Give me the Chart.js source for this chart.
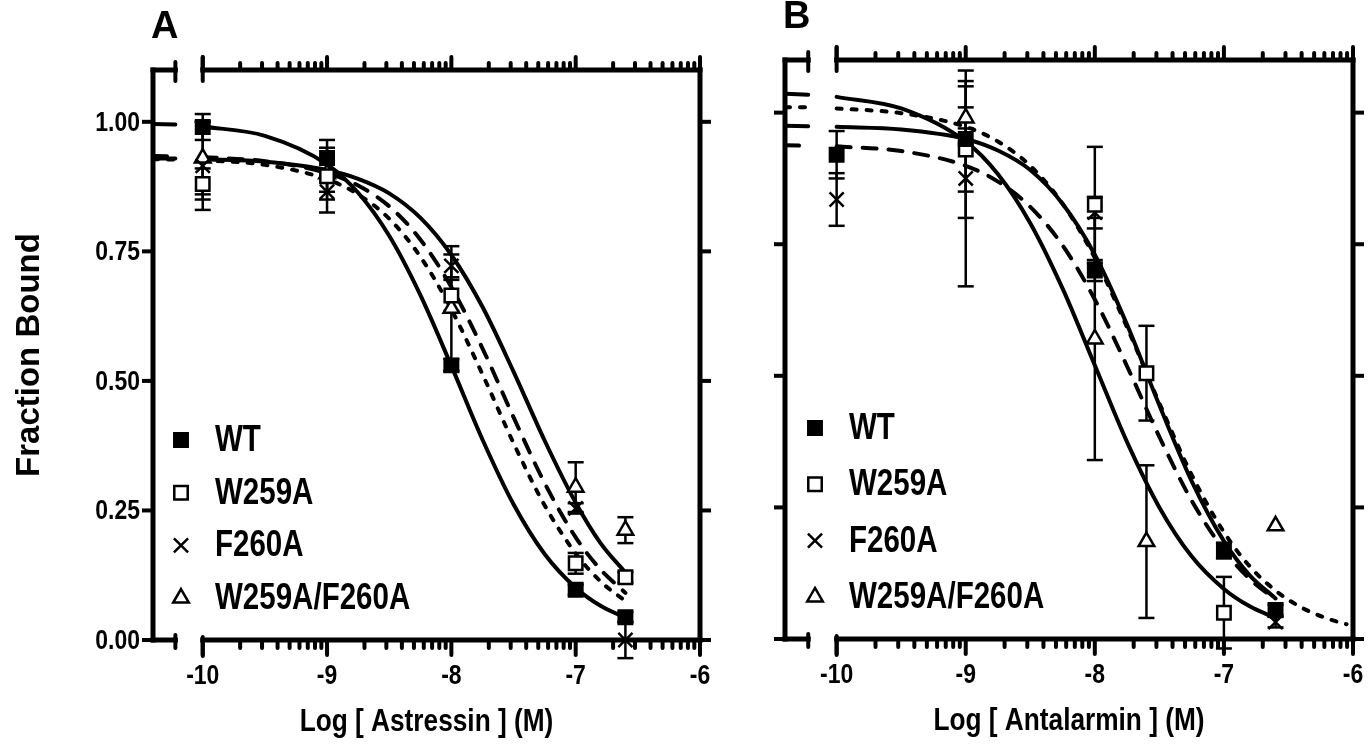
<!DOCTYPE html>
<html>
<head>
<meta charset="utf-8">
<script src="https://cdn.jsdelivr.net/npm/chart.js@4.4.1/dist/chart.umd.min.js"></script>
<style>
  html, body { margin: 0; padding: 0; background: #fff; }
  #wrap { position: relative; width: 1372px; height: 747px; }
  #chartA { position: absolute; left: 0; top: 0; }
  #chartB { position: absolute; left: 720px; top: 0; }
</style>
</head>
<body>
<div id="wrap">
  <canvas id="chartA" width="720" height="747"></canvas>
  <canvas id="chartB" width="652" height="747"></canvas>
</div>
<script>
// values (log molar concentration vs fraction bound)
const seriesNames = ['WT', 'W259A', 'F260A', 'W259A/F260A'];
const xTicks = [-10, -9, -8, -7, -6];
const yTicks = [0, 0.25, 0.5, 0.75, 1.0];
const breakFrom = -10.22;
const breakTo = -10;

// panel A - astressin
const doseA = [-10, -9, -8, -7, -6.6];
const wtA = [0.99, 0.93, 0.53, 0.097, 0.044];
const wtAErr = [0.025, 0.035, 0.012, 0.01, 0.01];
const w259A = [0.88, 0.895, 0.665, 0.148, 0.121];
const w259AErr = [0.03, 0.03, 0.03, 0.02, 0.01];
const f260A = [0.915, 0.865, 0.722, 0.254, 0.0];
const f260AErr = [0.085, 0.04, 0.022, 0.01, 0.035];
const dblA = [0.93, 0.9, 0.64, 0.295, 0.212];
const dblAErr = [0.07, 0.05, 0.12, 0.048, 0.025];

// fitted curves, sampled along the x axis
const fitX = [-10.4, -10.22, -10, -9.5, -9, -8.75, -8.5, -8.25, -8, -7.75, -7.5, -7.25, -7, -6.8, -6.6, -6.4, -6.2, -6.05];
const fitWtA = [0.996, 0.995, 0.991, 0.973, 0.918, 0.863, 0.78, 0.666, 0.529, 0.387, 0.262, 0.166, 0.101, 0.066, 0.043, null, null, null];
const fitW259A = [0.928, 0.927, 0.926, 0.917, 0.889, 0.86, 0.813, 0.74, 0.638, 0.513, 0.38, 0.26, 0.167, 0.113, 0.075, null, null, null];
const fitF260A = [0.934, 0.933, 0.932, 0.924, 0.901, 0.877, 0.837, 0.773, 0.681, 0.563, 0.43, 0.303, 0.198, 0.136, 0.091, null, null, null];
const fitDblA = [0.929, 0.929, 0.928, 0.923, 0.907, 0.89, 0.862, 0.815, 0.743, 0.643, 0.518, 0.385, 0.265, 0.187, 0.13, null, null, null];

// panel B - antalarmin
const doseB = [-10, -9, -8, -7.6, -7, -6.6];
const wtB = [0.92, 0.95, 0.7, null, 0.168, 0.055];
const wtBErr = [0.045, 0.1, 0.02, null, 0.015, 0.01];
const w259B = [null, 0.93, 0.825, 0.505, 0.05, null];
const w259BErr = [null, 0.13, 0.11, 0.09, 0.068, null];
const f260B = [0.835, 0.875, 0.81, null, null, 0.032];
const f260BErr = [0.05, 0.205, 0.03, null, null, 0.01];
const dblB = [null, 0.99, 0.57, 0.185, null, 0.215];
const dblBErr = [null, 0.02, 0.23, 0.145, null, 0];

const fitWtB = [0.975, 0.974, 0.973, 0.968, 0.95, 0.928, 0.891, 0.827, 0.73, 0.597, 0.444, 0.3, 0.186, 0.121, 0.077, null, null, null];
const fitW259B = [1.01, 1.01, 1.008, 0.999, 0.973, 0.945, 0.899, 0.827, 0.724, 0.592, 0.448, 0.312, 0.203, 0.138, 0.092, 0.06, 0.039, 0.028];
const fitF260B = [0.938, 0.937, 0.936, 0.927, 0.899, 0.869, 0.821, 0.748, 0.645, 0.518, 0.384, 0.263, 0.169, 0.114, 0.075, null, null, null];
const fitDblB = [1.036, 1.034, 1.03, 1.008, 0.945, 0.883, 0.79, 0.666, 0.52, 0.374, 0.25, 0.157, 0.095, 0.062, 0.04, null, null, null];

const FONT = '"Liberation Sans", Arial, sans-serif';
const SQUEEZE = 0.82; // the original lettering is a condensed face

const markers = [
    { pointStyle: 'rect', fill: '#000', radius: 9.5 },
    { pointStyle: 'rect', fill: '#fff', radius: 9.5 },
    { pointStyle: 'crossRot', fill: '#000', radius: 10 },
    { pointStyle: 'triangle', fill: '#fff', radius: 9 },
];
const dashes = [[], [5, 10], [14, 12], []];

function points(xs, ys, errs) {
    const out = [];
    xs.forEach((x, i) => {
        if (ys[i] != null) out.push({ x: x, y: ys[i], e: errs[i] });
    });
    return out;
}

// gap in the line where the x axis is broken
function curve(xs, ys) {
    const out = [];
    xs.forEach((x, i) => {
        if (i > 0 && xs[i - 1] < breakTo && x >= breakTo) out.push({ x: (breakFrom + breakTo) / 2, y: null });
        if (ys[i] != null) out.push({ x: x, y: ys[i] });
    });
    return out;
}

function buildDatasets(dose, vals, errs, fits) {
    const sets = [];
    vals.forEach((v, i) => {
        const m = markers[i];
        sets.push({
            label: seriesNames[i],
            data: points(dose, v, errs[i]),
            pointStyle: m.pointStyle,
            pointRadius: m.radius,
            pointBackgroundColor: m.fill,
            pointBorderColor: '#000',
            pointBorderWidth: 2.5,
            showLine: false,
            clip: false,
            errorBars: true,
        });
    });
    fits.forEach((f, i) => {
        sets.push({
            label: seriesNames[i] + ' fit',
            data: curve(fitX, f),
            showLine: true,
            pointRadius: 0,
            borderColor: '#000',
            borderWidth: 4,
            borderDash: dashes[i],
            borderCapStyle: 'round',
            cubicInterpolationMode: 'monotone',
            spanGaps: false,
        });
    });
    return sets;
}

function line(ctx, x1, y1, x2, y2) {
    ctx.beginPath();
    ctx.moveTo(x1, y1);
    ctx.lineTo(x2, y2);
    ctx.stroke();
}

function narrowText(ctx, text, x, y, size, align, rotate) {
    ctx.save();
    ctx.font = 'bold ' + size + 'px ' + FONT;
    ctx.fillStyle = '#000';
    ctx.textAlign = align;
    ctx.textBaseline = 'middle';
    ctx.translate(x, y);
    if (rotate) ctx.rotate(rotate);
    ctx.scale(SQUEEZE, 1);
    ctx.fillText(text, 0, 0);
    ctx.restore();
}

const frame = {
    id: 'frame',
    beforeDatasetsDraw(chart) {
        const { ctx, chartArea: a, scales: { x, y } } = chart;
        const b0 = x.getPixelForValue(breakFrom);
        const b1 = x.getPixelForValue(breakTo);
        ctx.save();
        ctx.strokeStyle = '#000';
        ctx.lineCap = 'square';
        ctx.lineWidth = 5;
        line(ctx, a.left, a.top, a.left, a.bottom);
        line(ctx, a.right, a.top, a.right, a.bottom);
        line(ctx, a.left, a.top, b0, a.top);
        line(ctx, b1, a.top, a.right, a.top);
        line(ctx, a.left, a.bottom, b0, a.bottom);
        line(ctx, b1, a.bottom, a.right, a.bottom);

        ctx.lineCap = 'round';
        ctx.lineWidth = 4;
        line(ctx, b0, a.top - 8, b0, a.top + 11);
        line(ctx, b1, a.top - 13, b1, a.top + 11);
        line(ctx, b0, a.bottom - 5, b0, a.bottom + 8);
        line(ctx, b1, a.bottom - 3, b1, a.bottom + 16);
        x.ticks.forEach((t) => {
            const px = x.getPixelForValue(t.value);
            line(ctx, px, a.bottom, px, a.bottom + 15);
            line(ctx, px, a.top, px, a.top - 13);
        });
        for (let d = xTicks[0]; d < xTicks[xTicks.length - 1]; d++) {
            for (let k = 2; k <= 9; k++) {
                const px = x.getPixelForValue(d + Math.log10(k));
                line(ctx, px, a.bottom, px, a.bottom + 8);
                line(ctx, px, a.top, px, a.top - 7);
            }
        }
        ctx.lineCap = 'butt';
        y.ticks.forEach((t) => {
            const py = y.getPixelForValue(t.value);
            line(ctx, a.left - 11, py, a.left, py);
            line(ctx, a.right, py, a.right + 11, py);
        });
        ctx.restore();
    },
};

const errorBars = {
    id: 'errorBars',
    beforeDatasetsDraw(chart) {
        const { ctx, scales: { y } } = chart;
        ctx.save();
        ctx.strokeStyle = '#000';
        ctx.lineWidth = 2.5;
        chart.data.datasets.forEach((ds, i) => {
            if (!ds.errorBars) return;
            const meta = chart.getDatasetMeta(i);
            ds.data.forEach((p, j) => {
                if (!p.e) return;
                const px = meta.data[j].x;
                const top = y.getPixelForValue(p.y + p.e);
                const bot = y.getPixelForValue(p.y - p.e);
                line(ctx, px, top, px, bot);
                line(ctx, px - 8, top, px + 8, top);
                line(ctx, px - 8, bot, px + 8, bot);
            });
        });
        ctx.restore();
    },
};

// tick labels, axis titles, panel letter and legend
const labels = {
    id: 'labels',
    afterDraw(chart, args, opts) {
        const { ctx, chartArea: a, scales: { x, y } } = chart;
        x.ticks.forEach((t) => {
            narrowText(ctx, String(t.value), x.getPixelForValue(t.value), a.bottom + 36, 28, 'center');
        });
        narrowText(ctx, opts.xTitle, (a.left + a.right) / 2, a.bottom + 82, 32, 'center');
        if (opts.showY) {
            y.ticks.forEach((t) => {
                narrowText(ctx, t.value.toFixed(2), a.left - 13, y.getPixelForValue(t.value) + 1, 28, 'right');
            });
            ctx.save();
            ctx.font = 'bold 33px ' + FONT;
            ctx.fillStyle = '#000';
            ctx.textAlign = 'center';
            ctx.textBaseline = 'middle';
            ctx.translate(30, (a.top + a.bottom) / 2);
            ctx.rotate(-Math.PI / 2);
            ctx.fillText('Fraction Bound', 0, 0);
            ctx.restore();
        }

        ctx.save();
        ctx.fillStyle = '#000';
        ctx.font = 'bold 38px ' + FONT;
        ctx.fillText(opts.letter, a.left - 2, a.top - 32);
        ctx.restore();

        seriesNames.forEach((name, i) => {
            const cy = opts.legendY + i * opts.legendStep;
            const mx = a.left + opts.legendX;
            const m = markers[i];
            ctx.save();
            ctx.fillStyle = m.fill;
            ctx.strokeStyle = '#000';
            ctx.lineWidth = 2.5;
            Chart.helpers.drawPoint(ctx, { pointStyle: m.pointStyle, radius: m.radius, borderWidth: 2.5, rotation: 0 }, mx, cy);
            ctx.restore();
            narrowText(ctx, name, mx + 34, cy + 1, 36, 'left');
        });
    },
};

function panelOptions(p) {
    return {
        responsive: false,
        animation: false,
        devicePixelRatio: 1,
        layout: { padding: { top: p.top, right: p.right, left: 0, bottom: 0 } },
        plugins: {
            legend: { display: false },
            tooltip: { enabled: false },
            labels: { letter: p.letter, xTitle: p.xTitle, showY: p.showY, legendX: p.legendX, legendY: p.legendY, legendStep: p.legendStep },
        },
        scales: {
            x: {
                type: 'linear',
                min: -10.4,
                max: -6,
                grid: { display: false, drawTicks: false },
                border: { display: false },
                afterBuildTicks: (s) => { s.ticks = xTicks.map((v) => ({ value: v })); },
                afterFit: (s) => { s.height = p.xHeight; },
                ticks: { display: false },
            },
            y: {
                type: 'linear',
                min: 0,
                max: 1.1,
                grid: { display: false, drawTicks: false },
                border: { display: false },
                afterBuildTicks: (s) => { s.ticks = yTicks.map((v) => ({ value: v })); },
                afterFit: (s) => { s.width = p.yWidth; },
                ticks: { display: false },
            },
        },
    };
}

new Chart(document.getElementById('chartA'), {
    type: 'scatter',
    data: { datasets: buildDatasets(doseA, [wtA, w259A, f260A, dblA], [wtAErr, w259AErr, f260AErr, dblAErr], [fitWtA, fitW259A, fitF260A, fitDblA]) },
    options: panelOptions({ top: 70, right: 20, xHeight: 107, yWidth: 153, showY: true, xTitle: 'Log [ Astressin ] (M)', letter: 'A', legendX: 28, legendY: 440, legendStep: 52.7 }),
    plugins: [frame, errorBars, labels],
});

new Chart(document.getElementById('chartB'), {
    type: 'scatter',
    data: { datasets: buildDatasets(doseB, [wtB, w259B, f260B, dblB], [wtBErr, w259BErr, f260BErr, dblBErr], [fitWtB, fitW259B, fitF260B, fitDblB]) },
    options: panelOptions({ top: 60, right: 19, xHeight: 108, yWidth: 65, showY: false, xTitle: 'Log [ Antalarmin ] (M)', letter: 'B', legendX: 30, legendY: 428, legendStep: 56.3 }),
    plugins: [frame, errorBars, labels],
});
</script>
</body>
</html>
